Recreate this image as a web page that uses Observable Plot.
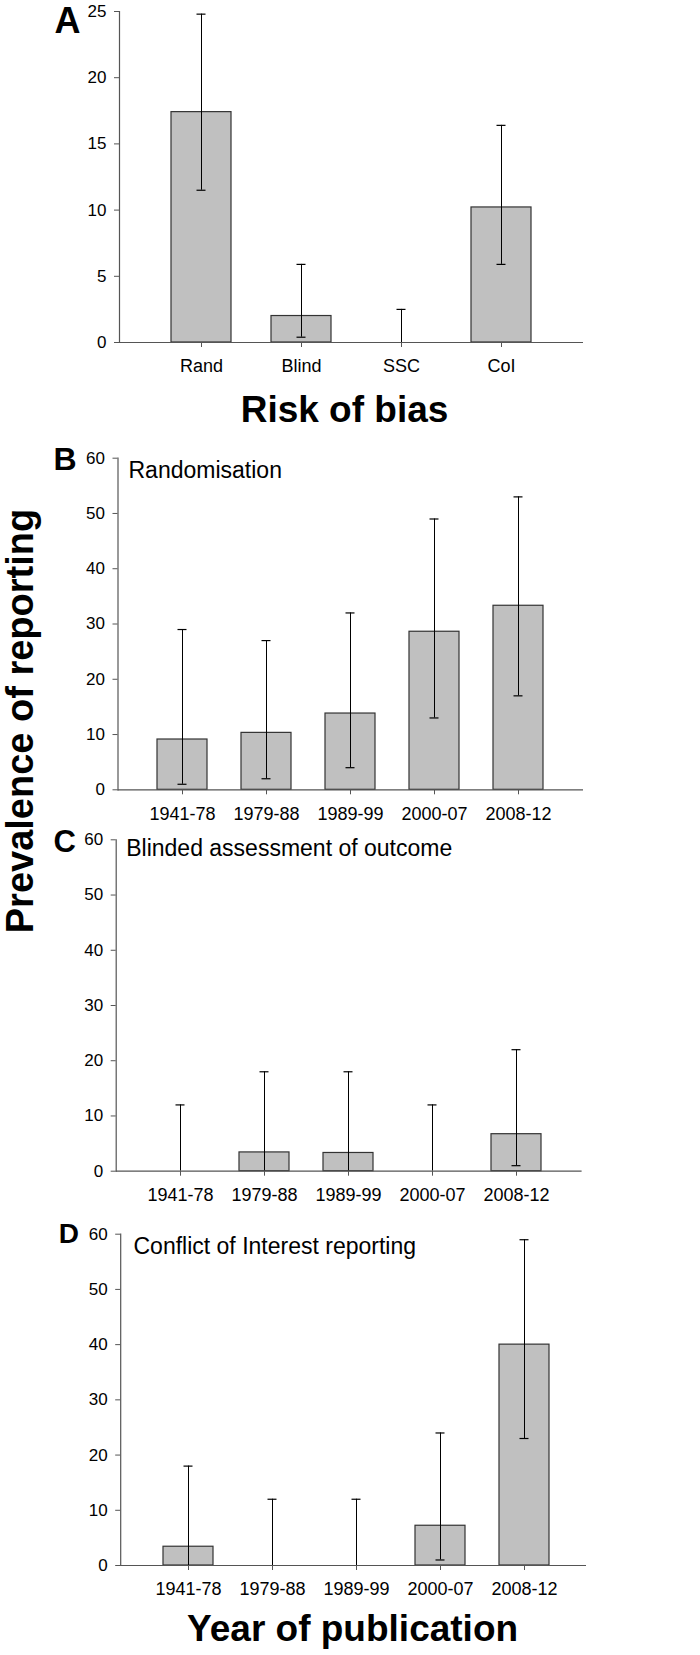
<!DOCTYPE html>
<html>
<head>
<meta charset="utf-8">
<script src="https://cdn.jsdelivr.net/npm/d3@7"></script>
<script src="https://cdn.jsdelivr.net/npm/@observablehq/plot@0.6"></script>
<style>
  html, body { margin: 0; padding: 0; background: white; }
  #wrap { position: relative; width: 700px; height: 1655px; overflow: hidden; background: white; }
  #ylabel {
    position: absolute; left: 1px; top: 721px;
    transform-origin: 0 0; transform: rotate(-90deg) translate(-50%, 0);
    white-space: nowrap; font: bold 38px "Liberation Sans", Arial, sans-serif; line-height: 1;
    color: black;
  }
</style>
</head>
<body>
<div id="wrap"><div id="ylabel">Prevalence of reporting</div></div>
<script>
// ---- Data ----
const riskCats = ["Rand", "Blind", "SSC", "CoI"];
const riskValues = [17.4, 2.0, 0, 10.2];
const riskLow = [11.5, 0.4, 0, 5.9];
const riskHigh = [24.8, 5.9, 2.5, 16.4];
const riskTicks = [0, 5, 10, 15, 20, 25];

const periods = ["1941-78", "1979-88", "1989-99", "2000-07", "2008-12"];
const periodTicks = [0, 10, 20, 30, 40, 50, 60];

const randValues = [9.1, 10.3, 13.8, 28.6, 33.3];
const randLow = [1, 2, 4, 13, 17];
const randHigh = [29, 27, 32, 49, 53];

const blindValues = [0, 3.4, 3.3, 0, 6.7];
const blindLow = [0, 0, 0, 0, 1];
const blindHigh = [12, 18, 18, 12, 22];

const coiValues = [3.4, 0, 0, 7.2, 40];
const coiLow = [0, 0, 0, 1, 23];
const coiHigh = [18, 12, 12, 24, 59];

const FONT = "'Liberation Sans', Arial, sans-serif";

function panel(o) {
  const rows = o.cats.map((c, i) => ({cat: c, value: o.values[i], lo: o.low[i], hi: o.high[i]}));
  const marks = [
    Plot.barY(rows.filter(d => d.value > 0), {x: "cat", y: "value", fill: "#c0c0c0", stroke: "#333", strokeWidth: 1.2}),
    Plot.ruleX(rows, {x: "cat", y1: "lo", y2: "hi", stroke: "black", strokeWidth: 1}),
    Plot.tickY(rows, {x: "cat", y: "hi", stroke: "black", strokeWidth: 1.2, insetLeft: o.capInset, insetRight: o.capInset}),
    Plot.tickY(rows.filter(d => d.lo > 0), {x: "cat", y: "lo", stroke: "black", strokeWidth: 1.2, insetLeft: o.capInset, insetRight: o.capInset}),
    Plot.ruleY([0], {stroke: "#555", strokeWidth: 1.2}),
    Plot.frame({anchor: "left", stroke: "#555", strokeWidth: 1.2}),
    Plot.axisY({ticks: o.yTicks, tickSize: 5, tickPadding: 8, fontSize: 17, label: null, stroke: "#555"}),
    Plot.axisX({tickSize: 5, tickPadding: 12, fontSize: 18, label: null, stroke: "#555"}),
    Plot.text([o.letter], {text: d => d, frameAnchor: "top-left", textAnchor: "start", lineAnchor: "top",
      dx: o.letterDx, dy: o.letterDy, fontSize: o.letterSize, fontWeight: "bold", fill: "black"})
  ];
  if (o.title) marks.push(Plot.text([o.title], {text: d => d, frameAnchor: "top-left", textAnchor: "start", lineAnchor: "top",
      dx: o.titleDx, dy: o.titleDy, fontSize: 23, fill: "black"}));
  if (o.xTitle) marks.push(Plot.text([o.xTitle], {text: d => d, frameAnchor: "bottom", textAnchor: "middle", lineAnchor: "bottom",
      dx: o.xTitleDx, dy: o.xTitleDy, fontSize: 37, fontWeight: "bold", fill: "black"}));
  const svg = Plot.plot({
    width: 700, height: o.height,
    marginLeft: o.marginLeft, marginRight: o.marginRight, marginTop: o.marginTop, marginBottom: o.marginBottom,
    style: {fontFamily: FONT, background: "transparent", overflow: "visible", color: "black"},
    x: {domain: o.cats, paddingInner: 0.4, paddingOuter: o.paddingOuter, align: o.align},
    y: {domain: [0, o.yMax]},
    marks
  });
  svg.style.position = "absolute";
  svg.style.left = "0px";
  svg.style.top = o.top + "px";
  document.getElementById("wrap").appendChild(svg);
}

panel({cats: riskCats, values: riskValues, low: riskLow, high: riskHigh, yMax: 25, yTicks: riskTicks,
  top: 0, height: 430, marginLeft: 119, marginRight: 117, marginTop: 11, marginBottom: 88,
  paddingOuter: 0.5, align: 0.5, capInset: 25.5,
  letter: "A", letterSize: 36, letterDx: -65, letterDy: -4,
  xTitle: "Risk of bias", xTitleDx: -7, xTitleDy: 79});

panel({cats: periods, values: randValues, low: randLow, high: randHigh, yMax: 60, yTicks: periodTicks,
  top: 430, height: 396, marginLeft: 117.5, marginRight: 117, marginTop: 27.7, marginBottom: 36.7,
  paddingOuter: 0.46, align: 0.5, capInset: 20.5,
  letter: "B", letterSize: 32, letterDx: -64.5, letterDy: -11,
  title: "Randomisation", titleDx: 10.5, titleDy: 3.3});

panel({cats: periods, values: blindValues, low: blindLow, high: blindHigh, yMax: 60, yTicks: periodTicks,
  top: 826, height: 380, marginLeft: 115.7, marginRight: 118.4, marginTop: 13.3, marginBottom: 35.3,
  paddingOuter: 0.46, align: 0.5, capInset: 20.5,
  letter: "C", letterSize: 31, letterDx: -62.7, letterDy: -10,
  title: "Blinded assessment of outcome", titleDx: 10, titleDy: 0});

panel({cats: periods, values: coiValues, low: coiLow, high: coiHigh, yMax: 60, yTicks: periodTicks,
  top: 1206, height: 449, marginLeft: 120.2, marginRight: 114, marginTop: 27.7, marginBottom: 90,
  paddingOuter: 0.46, align: 0.54, capInset: 20.5,
  letter: "D", letterSize: 28, letterDx: -62, letterDy: -10.7,
  title: "Conflict of Interest reporting", titleDx: 12.8, titleDy: 3,
  xTitle: "Year of publication", xTitleDx: -1, xTitleDy: 75});
</script>
</body>
</html>
